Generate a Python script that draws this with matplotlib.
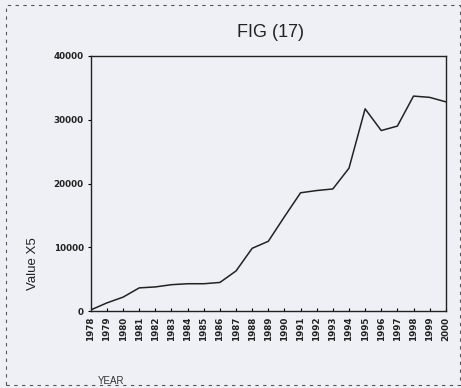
import matplotlib
matplotlib.use("Agg")
import matplotlib.pyplot as plt
from matplotlib.patches import Rectangle

# yearly values of X5
years = list(range(1978, 2001))
values = [200, 1300, 2200, 3650, 3800, 4150, 4300, 4300, 4500, 6300,
          9850, 10950, 14800, 18550, 18900, 19150, 22400, 31700, 28300,
          29000, 33700, 33500, 32800]
y_ticks = [0, 10000, 20000, 30000, 40000]

bg = "#eef0f6"
fig = plt.figure(figsize=(4.61, 3.88), dpi=100, facecolor=bg)
ax = fig.add_axes([0.197, 0.198, 0.77, 0.658], facecolor=bg)

ax.plot(years, values, color="#222222", linewidth=1.1)

ax.set_xlim(1978, 2000)
ax.set_ylim(0, 40000)
ax.set_xticks(years)
ax.set_xticklabels([str(y) for y in years], rotation=90, fontsize=6.3,
                   fontweight="bold", color="#222222")
ax.set_yticks(y_ticks)
ax.set_yticklabels([str(v) for v in y_ticks], fontsize=6.3,
                   fontweight="bold", color="#222222")
ax.tick_params(axis="x", direction="in", length=2, pad=4)
ax.tick_params(axis="y", length=2, pad=3)
for s in ax.spines.values():
    s.set_linewidth(1.0)
    s.set_color("#222222")

fig.text(0.586, 0.915, "FIG (17)", ha="center", va="center",
         fontsize=13, family="Liberation Sans", color="#222222")
fig.text(0.072, 0.32, "Value X5", rotation=90, ha="center", va="center",
         fontsize=9.5, family="Liberation Sans", color="#222222")
fig.text(0.24, 0.018, "YEAR", ha="center", va="center",
         fontsize=7, family="Liberation Sans", color="#333333")

# dashed page border
fig.patches.append(Rectangle((0.012, 0.008), 0.985, 0.978, transform=fig.transFigure,
                             fill=False, linestyle=(0, (3, 4)), linewidth=0.8,
                             edgecolor="#555555"))

fig.savefig("out.png", dpi=100, facecolor=bg)
